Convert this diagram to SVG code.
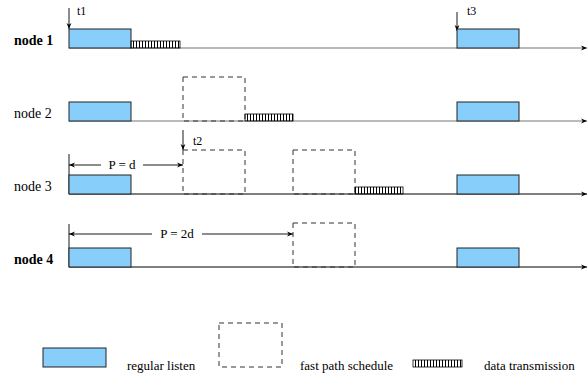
<svg xmlns="http://www.w3.org/2000/svg" width="588" height="376" viewBox="0 0 588 376">
<defs>
<marker id="ah" viewBox="0 0 10 10" refX="10" refY="5" markerWidth="8" markerHeight="6" markerUnits="userSpaceOnUse" orient="auto">
<path d="M0,1 L10,5 L0,9 L3,5 Z" fill="#000"/>
</marker>
<pattern id="hatch" x="0" y="0" width="3" height="10" patternUnits="userSpaceOnUse">
<line x1="1.5" y1="0" x2="1.5" y2="10" stroke="#000" stroke-width="1"/>
</pattern>
<style>
.lbl{font-family:"Liberation Serif","Times New Roman",serif;font-size:14px;fill:#000}
.bold{font-weight:bold}
.sm{font-family:"Liberation Serif","Times New Roman",serif;font-size:13px;fill:#000}
.tl{font-family:"Liberation Serif","Times New Roman",serif;font-size:12px;fill:#000}
.listen{fill:#87cefa;stroke:#222;stroke-width:1}
.fast{fill:none;stroke:#333;stroke-width:1;stroke-dasharray:5,4}
.data{fill:url(#hatch);stroke:#000;stroke-width:0.8}
.axisg{stroke:#777;stroke-width:1.2;fill:none}
.axisb{stroke:#000;stroke-width:1.2;fill:none}
.arr{stroke:#000;stroke-width:0.9;fill:none}
</style>
</defs>
<g id="connectors">
<line class="axisg" x1="69" y1="48" x2="587" y2="48" marker-end="url(#ah)"/>
<line class="axisg" x1="69" y1="121" x2="587" y2="121" marker-end="url(#ah)"/>
<line class="axisb" x1="69" y1="194" x2="587" y2="194" marker-end="url(#ah)"/>
<line class="axisb" x1="69" y1="267" x2="587" y2="267" marker-end="url(#ah)"/>
<line class="arr" x1="69" y1="8" x2="69" y2="29" marker-end="url(#ah)"/>
<line class="arr" x1="183" y1="130" x2="183" y2="150" marker-end="url(#ah)"/>
<line class="arr" x1="457" y1="12" x2="457" y2="31" marker-end="url(#ah)"/>
<line class="arr" x1="69" y1="154" x2="69" y2="194"/>
<line class="arr" x1="69" y1="224" x2="69" y2="267"/>
<line class="arr" x1="101" y1="165" x2="69" y2="165" marker-end="url(#ah)"/>
<line class="arr" x1="143" y1="165" x2="183" y2="165" marker-end="url(#ah)"/>
<line class="arr" x1="152" y1="234" x2="69" y2="234" marker-end="url(#ah)"/>
<line class="arr" x1="202" y1="234" x2="293" y2="234" marker-end="url(#ah)"/>
<text class="tl" x="77" y="15">t1</text>
<text class="tl" x="193" y="145">t2</text>
<text class="tl" x="467" y="15">t3</text>
<text class="sm" x="122" y="169" text-anchor="middle">P = d</text>
<text class="sm" x="177" y="238" text-anchor="middle">P = 2d</text>
</g>
<g id="node1">
<text class="lbl bold" x="14" y="45">node 1</text>
<rect class="listen" x="69" y="29" width="62" height="19"/>
<rect class="data" x="131" y="41" width="49" height="7"/>
<rect class="listen" x="457" y="29" width="62" height="19"/>
</g>
<g id="node2">
<text class="lbl" x="14" y="118">node 2</text>
<rect class="listen" x="69" y="102" width="62" height="19"/>
<rect class="fast" x="183" y="77" width="62" height="44"/>
<rect class="data" x="245" y="114" width="48" height="7"/>
<rect class="listen" x="457" y="102" width="62" height="19"/>
</g>
<g id="node3">
<text class="lbl" x="14" y="191">node 3</text>
<rect class="listen" x="69" y="175" width="62" height="19"/>
<rect class="fast" x="183" y="150" width="62" height="44"/>
<rect class="fast" x="293" y="150" width="62" height="44"/>
<rect class="data" x="355" y="187" width="48" height="7"/>
<rect class="listen" x="457" y="175" width="62" height="19"/>
</g>
<g id="node4">
<text class="lbl bold" x="14" y="264">node 4</text>
<rect class="listen" x="69" y="248" width="62" height="19"/>
<rect class="fast" x="293" y="223" width="62" height="44"/>
<rect class="listen" x="457" y="248" width="62" height="19"/>
</g>
<g id="legend">
<rect class="listen" x="43" y="348" width="63" height="19"/>
<text class="sm" x="127" y="370">regular listen</text>
<rect class="fast" x="219" y="323" width="63" height="44"/>
<text class="sm" x="300" y="370">fast path schedule</text>
<rect class="data" x="413" y="360" width="49" height="7"/>
<text class="sm" x="484" y="370">data transmission</text>
</g>
</svg>
